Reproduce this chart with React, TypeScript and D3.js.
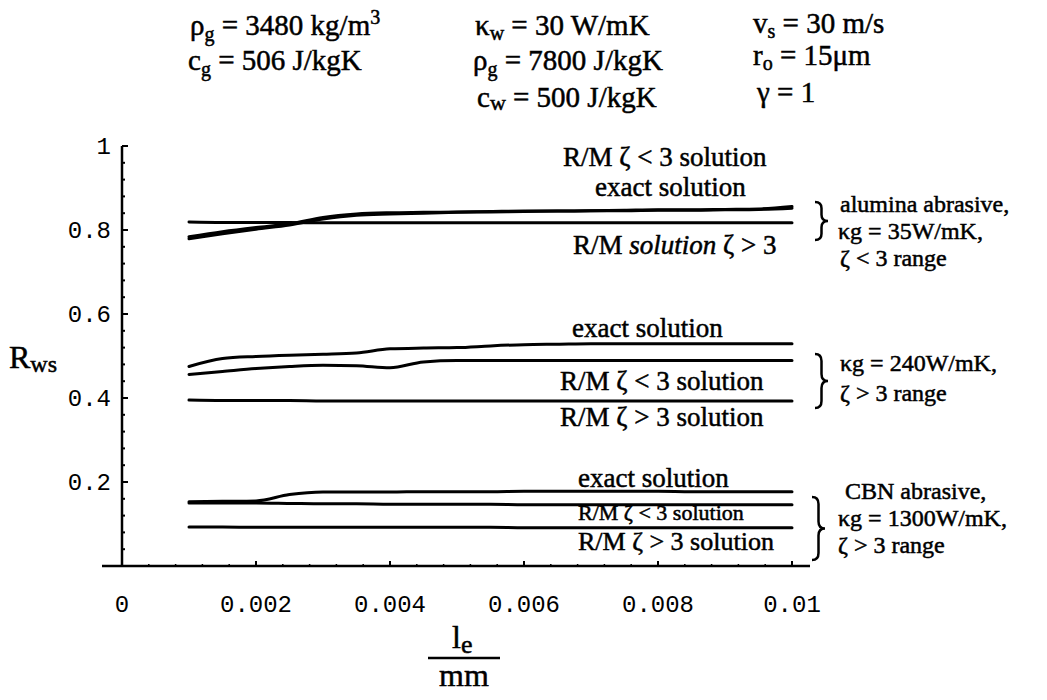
import React from 'react';
import * as d3 from 'd3';

// l_e values (mm)
const xs = [0.001, 0.0015, 0.002, 0.0025, 0.003, 0.0035, 0.004, 0.0045, 0.005, 0.0055, 0.006, 0.0065, 0.007, 0.0075, 0.008, 0.0085, 0.009, 0.0095, 0.01];

// alumina abrasive, kg = 35 W/mK
const aluminaExact = [0.784, 0.796, 0.806, 0.815, 0.830, 0.838, 0.841, 0.842, 0.843, 0.844, 0.845, 0.845, 0.846, 0.846, 0.847, 0.847, 0.848, 0.849, 0.852];
const aluminaRMlt3 = [0.779, 0.791, 0.802, 0.812, 0.826, 0.835, 0.838, 0.840, 0.842, 0.843, 0.844, 0.845, 0.846, 0.847, 0.848, 0.848, 0.849, 0.850, 0.856];
const aluminaRMgt3 = [0.819, 0.818, 0.818, 0.818, 0.817, 0.817, 0.817, 0.817, 0.817, 0.817, 0.817, 0.817, 0.817, 0.817, 0.817, 0.817, 0.817, 0.817, 0.817];

// kg = 240 W/mK
const midExact = [0.475, 0.494, 0.499, 0.502, 0.504, 0.507, 0.517, 0.519, 0.520, 0.524, 0.527, 0.528, 0.529, 0.529, 0.529, 0.529, 0.529, 0.529, 0.529];
const midRMlt3 = [0.456, 0.463, 0.470, 0.475, 0.478, 0.477, 0.472, 0.486, 0.489, 0.489, 0.489, 0.489, 0.489, 0.489, 0.489, 0.489, 0.489, 0.489, 0.489];
const midRMgt3 = [0.395, 0.394, 0.394, 0.394, 0.393, 0.393, 0.393, 0.393, 0.393, 0.393, 0.393, 0.393, 0.393, 0.393, 0.393, 0.393, 0.393, 0.393, 0.393];

// CBN abrasive, kg = 1300 W/mK
const cbnExact = [0.153, 0.154, 0.155, 0.170, 0.176, 0.176, 0.176, 0.177, 0.177, 0.177, 0.178, 0.178, 0.178, 0.178, 0.178, 0.177, 0.177, 0.177, 0.177];
const cbnRMlt3 = [0.150, 0.150, 0.150, 0.149, 0.148, 0.148, 0.147, 0.147, 0.147, 0.147, 0.146, 0.146, 0.146, 0.146, 0.146, 0.146, 0.146, 0.146, 0.146];
const cbnRMgt3 = [0.093, 0.093, 0.092, 0.092, 0.092, 0.092, 0.092, 0.092, 0.092, 0.092, 0.091, 0.091, 0.091, 0.091, 0.091, 0.091, 0.091, 0.091, 0.091];

const xTicks = [0, 0.002, 0.004, 0.006, 0.008, 0.01];
const xTickLabels = ['0', '0.002', '0.004', '0.006', '0.008', '0.01'];
const yTicks = [0.2, 0.4, 0.6, 0.8, 1];
const yTickLabels = ['0.2', '0.4', '0.6', '0.8', '1'];

const series = [aluminaExact, aluminaRMlt3, aluminaRMgt3, midExact, midRMlt3, midRMgt3, cbnExact, cbnRMlt3, cbnRMgt3];

const SERIF = '"Liberation Serif", "Times New Roman", serif';
const MONO = '"Liberation Mono", "Courier New", monospace';

function brace(x: number, y0: number, y1: number, w: number) {
  const ym = (y0 + y1) / 2;
  const xm = x + w / 2;
  const r = Math.min(7, (y1 - y0) / 6);
  return `M${x},${y0} Q${xm},${y0} ${xm},${y0 + r} L${xm},${ym - r} Q${xm},${ym} ${x + w},${ym} Q${xm},${ym} ${xm},${ym + r} L${xm},${y1 - r} Q${xm},${y1} ${x},${y1}`;
}

export default function App() {
  const x = d3.scaleLinear().domain([0, 0.01]).range([122, 792]);
  const y = d3.scaleLinear().domain([0, 1]).range([566, 146]);
  const line = d3.line<number>().x((_, i) => x(xs[i])).y((d) => y(d)).curve(d3.curveMonotoneX);

  const minorY = d3.range(0.04, 1.0001, 0.04);
  const minorX = d3.range(0.0004, 0.01001, 0.0004);

  const t = { fontFamily: SERIF, fill: '#000', stroke: '#000', strokeWidth: 0.5 } as const;

  return (
    <svg width={1047} height={700} style={{ position: 'absolute', left: 0, top: 0, background: '#fff' }}>
      {/* parameters */}
      <g {...t} fontSize={29}>
        <text x={190} y={35}>ρ<tspan dy={6} fontSize={20}>g</tspan><tspan dy={-6}> = 3480 kg/m</tspan><tspan dy={-11} fontSize={20}>3</tspan></text>
        <text x={188} y={70}>c<tspan dy={6} fontSize={20}>g</tspan><tspan dy={-6}> = 506 J/kgK</tspan></text>
        <text x={475} y={35}>κ<tspan dy={5} fontSize={20}>w</tspan><tspan dy={-5}> = 30 W/mK</tspan></text>
        <text x={473} y={70}>ρ<tspan dy={6} fontSize={20}>g</tspan><tspan dy={-6}> = 7800 J/kgK</tspan></text>
        <text x={477} y={107}>c<tspan dy={3} fontSize={22}>w</tspan><tspan dy={-3}> = 500 J/kgK</tspan></text>
        <text x={753} y={33}>v<tspan dy={5} fontSize={20}>s</tspan><tspan dy={-5}> = 30 m/s</tspan></text>
        <text x={753} y={65}>r<tspan dy={5} fontSize={20}>o</tspan><tspan dy={-5}> = 15μm</tspan></text>
        <text x={757} y={102}>γ = 1</text>
      </g>

      {/* axes */}
      <line x1={102} x2={810} y1={y(0)} y2={y(0)} stroke="#000" strokeWidth={2.5} />
      <line x1={x(0)} x2={x(0)} y1={y(0)} y2={y(1)} stroke="#000" strokeWidth={2.5} />
      {minorY.map((v, i) => (
        <line key={'my' + i} x1={x(0)} x2={x(0) + 3} y1={y(v)} y2={y(v)} stroke="#000" strokeWidth={2} />
      ))}
      {yTicks.map((v, i) => (
        <line key={'Y' + i} x1={x(0)} x2={x(0) + 6} y1={y(v)} y2={y(v)} stroke="#000" strokeWidth={2} />
      ))}
      {minorX.map((v, i) => (
        <line key={'mx' + i} x1={x(v)} x2={x(v)} y1={y(0)} y2={y(0) - 2} stroke="#000" strokeWidth={1.5} />
      ))}
      {xTicks.map((v, i) => (
        <line key={'X' + i} x1={x(v)} x2={x(v)} y1={y(0)} y2={y(0) - 5} stroke="#000" strokeWidth={2} />
      ))}
      <g fontFamily={MONO} fontSize={24} fill="#000">
        {yTicks.map((v, i) => (
          <text key={'yl' + i} x={111} y={y(v)} dy="0.35em" textAnchor="end">{yTickLabels[i]}</text>
        ))}
        {xTicks.map((v, i) => (
          <text key={'xl' + i} x={x(v)} y={612} textAnchor="middle">{xTickLabels[i]}</text>
        ))}
      </g>

      {/* axis titles */}
      <g {...t}>
        <text x={9} y={368} fontSize={32}>R<tspan dy={4} fontSize={24}>ws</tspan></text>
        <text x={452} y={648} fontSize={32}>l<tspan dy={5} fontSize={26}>e</tspan></text>
        <line x1={428} x2={500} y1={658} y2={658} stroke="#000" strokeWidth={2.5} />
        <text x={464} y={686} fontSize={32} textAnchor="middle">mm</text>
      </g>

      {/* curves */}
      {series.map((s, i) => (
        <path key={'s' + i} d={line(s) || ''} fill="none" stroke="#000" strokeWidth={3} strokeLinecap="round" />
      ))}

      {/* curve labels */}
      <g {...t} fontSize={27}>
        <text x={563} y={166}>R/M ζ &lt; 3 solution</text>
        <text x={595} y={196}>exact solution</text>
        <text x={573} y={254}>R/M <tspan fontStyle="italic">solution</tspan> ζ &gt; 3</text>
        <text x={572} y={337}>exact solution</text>
        <text x={560} y={390}>R/M ζ &lt; 3 solution</text>
        <text x={560} y={426}>R/M ζ &gt; 3 solution</text>
        <text x={578} y={487}>exact solution</text>
        <text x={578} y={520} fontSize={22}>R/M ζ &lt; 3 solution</text>
        <text x={578} y={550} fontSize={26}>R/M ζ &gt; 3 solution</text>
      </g>

      {/* group annotations */}
      <path d={brace(815, 202, 240, 13)} fill="none" stroke="#000" strokeWidth={2.5} />
      <path d={brace(815, 354, 408, 13)} fill="none" stroke="#000" strokeWidth={2.5} />
      <path d={brace(812, 497, 560, 13)} fill="none" stroke="#000" strokeWidth={2.5} />
      <g {...t} fontSize={24}>
        <text x={840} y={212}>alumina abrasive,</text>
        <text x={838} y={239}>κg = 35W/mK,</text>
        <text x={840} y={266}>ζ &lt; 3 range</text>
        <text x={840} y={371}>κg = 240W/mK,</text>
        <text x={840} y={401}>ζ &gt; 3 range</text>
        <text x={845} y={499}>CBN abrasive,</text>
        <text x={838} y={526}>κg = 1300W/mK,</text>
        <text x={838} y={553}>ζ &gt; 3 range</text>
      </g>
    </svg>
  );
}
